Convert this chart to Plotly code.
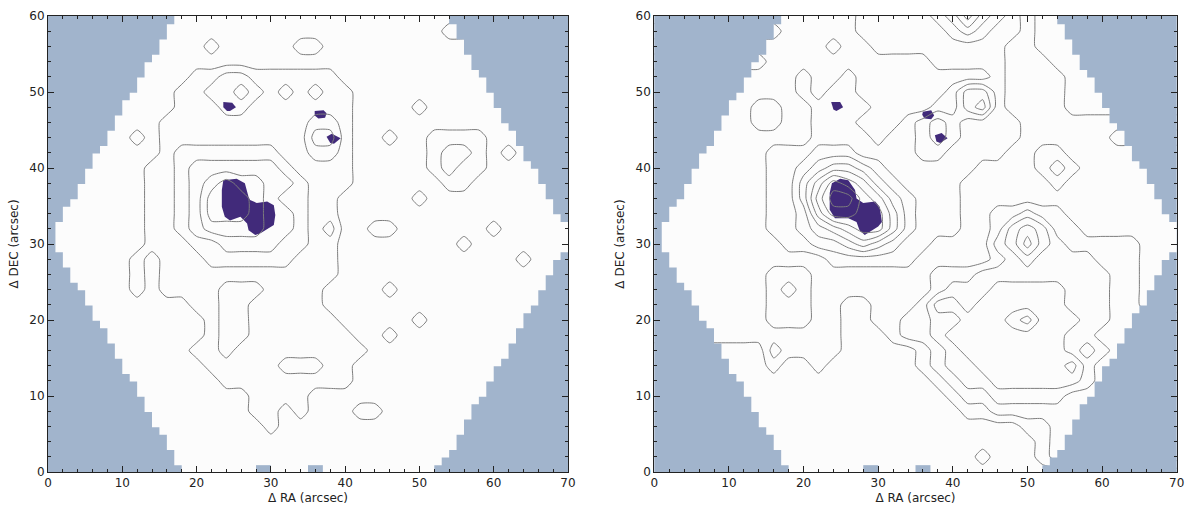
import plotly.graph_objects as go

# ---------------- data ----------------
x_nodes = list(range(0, 71, 2))   # contour grid nodes (arcsec)
y_nodes = list(range(0, 61, 2))

# contour level counts, rows from DEC=60 (top) to DEC=0
right_levels = [
    "........." + "1111122222346432100" + "........",
    "........" + "01111122222234322100" + "........",
    "........" + "111121122222222211000" + ".......",
    "......." + "0111111111112222211100" + ".......",
    "......." + "11121121111111112111100" + "......",
    "......" + "111121221" + "11111" + "24421" + "11100" + "......",
    "....." + "1122112222" + "1111" + "224521" + "111000" + ".....",
    "....." + "11221122211123432222" + "111111" + ".....",
    "...." + "1111111222212234322221111112" + "....",
    "...." + "11112223332222332222112211111" + "...",
    "..." + "111112234554322222211112321111" + "...",
    "..." + "1111122468764322221111112111111" + "..",
    ".." + "111111" + "22479976432221" + "111111111111" + "..",
    "." + "1111111" + "22368877532221" + "122322" + "1111111" + ".",
    "." + "1111111" + "22345677532221" + "124542" + "21111111",
    "." + "1111111" + "12233454322111" + "134643" + "22222111",
    "." + "11111111" + "111222222" + "1111" + "1" + "2343" + "333" + "222" + "11" + ".",
    ".." + "111111" + "222" + "1111111" + "1" + "222" + "333333333" + "22" + "11" + ".",
    ".." + "111111" + "232" + "1111111" + "1" + "2" + "333" + "44444" + "333" + "22" + "1" + "..",
    "..." + "11111" + "222" + "1100111" + "2" + "44" + "3" + "444444" + "333" + "22" + "1" + "..",
    "..." + "11111" + "222" + "11001" + "1" + "22" + "33" + "444" + "56" + "444" + "33" + "22" + "...",
    "...." + "1111" + "11111" + "000" + "1" + "22" + "3" + "44444444" + "33" + "22" + "....",
    "....." + "000" + "2" + "1111" + "00000" + "1" + "2" + "3" + "4444444" + "3" + "2" + "3" + "2" + "....",
    "....." + "000" + "1" + "00" + "1" + "000000" + "1" + "2" + "33" + "444444" + "5" + "3" + "2" + ".....",
    "......" + "0000000000000" + "1" + "2" + "33" + "444444" + "3" + "2" + ".....",
    "......" + "00000000000000" + "1" + "22" + "33333" + "22" + "......",
    "......." + "00000000000000" + "11" + "222222" + ".......",
    "......." + "000000000000000000" + "11" + "22" + ".......",
    "........" + "000000000000000000" + "1" + "2" + "........",
    "........." + "0000000000000" + "1" + "000" + "1" + "2" + "........",
    "........." + "000000000000000000" + ".........",
]

left_levels = [
    "........." + "0000000000000000000" + "........",
    "........" + "0000000000000000000" + "1" + "........",
    "........" + "000100000" + "11" + "0000000000" + ".......",
    "......." + "0000000000000000000000" + ".......",
    "......." + "000" + "11" + "22" + "111111" + "0" + "0" + "00000000" + "......",
    "......" + "000" + "11" + "22" + "3" + "2" + "1" + "2" + "1211" + "0" + "00000000" + "......",
    "....." + "0000" + "111" + "22" + "1111111" + "00" + "00100000" + ".....",
    "....." + "000" + "111111111" + "1" + "22" + "1" + "000" + "0000000" + ".....",
    "...." + "00" + "1" + "0" + "111111111" + "1" + "33" + "1" + "00" + "1" + "00" + "1111" + "00" + "....",
    "...." + "0000" + "1" + "2222222" + "1" + "1" + "22" + "1" + "0" + "0000" + "1" + "22" + "1" + "0" + "1" + "0" + "...",
    "..." + "0000" + "11" + "2" + "333333" + "2" + "1111" + "0" + "0000" + "1" + "2" + "11" + "000" + "...",
    "..." + "0000" + "11" + "2" + "3" + "4" + "5" + "44" + "33" + "2" + "111" + "000000" + "11" + "00000" + "..",
    ".." + "00000" + "11" + "2" + "3" + "555" + "4" + "3" + "22" + "11" + "0" + "0000" + "1" + "00000000" + "..",
    "." + "000000" + "11" + "2" + "3" + "555" + "4" + "33" + "2" + "11" + "0" + "00000000000000" + ".",
    "." + "000000" + "11" + "2" + "3" + "4444" + "33" + "2" + "12" + "00" + "11" + "000000" + "1" + "00000",
    "." + "000000" + "111" + "22" + "3333" + "22" + "11" + "0" + "0000000" + "1" + "00" + "0" + "0000",
    "." + "00000" + "1" + "0" + "111" + "222222" + "111" + "0" + "00000000000" + "1" + "00" + ".",
    ".." + "0000" + "1" + "0" + "111111111111" + "0" + "00000000000000" + ".",
    ".." + "0000" + "1" + "0" + "1111" + "222" + "1111" + "0" + "000" + "1" + "0000000000" + "..",
    "..." + "0000000" + "11" + "22" + "11111" + "0" + "00" + "0" + "00000000000" + "..",
    "..." + "00000000" + "1" + "22" + "111111" + "00000" + "1" + "0000000" + "...",
    "...." + "0000000" + "1" + "22" + "1111111" + "00" + "1" + "0" + "0000000" + "....",
    "....." + "00000" + "11" + "2" + "111111111" + "0000000000" + "....",
    "....." + "000000" + "11111" + "222" + "11" + "0" + "000000000" + ".....",
    "......" + "000000" + "111111111" + "0" + "000000000" + ".....",
    "......" + "00000000" + "1111" + "000000000000" + "......",
    "......." + "0000000" + "11" + "0" + "1" + "000" + "11" + "000000" + ".......",
    "......." + "00000000" + "1" + "0000000000000" + ".......",
    "........" + "00000000000000000000" + "........",
    "........." + "0000000000000000000" + "........",
    "........." + "000000000000000000" + ".........",
]

# field-of-view mask: first and last covered RA for each 1-arcsec DEC row (row 0 at bottom)
row_left = [18, 17, 17, 16, 16, 15, 14, 14, 13, 13, 12, 12, 11, 10, 10, 9, 9, 8, 8, 7,
            6, 6, 5, 5, 4, 3, 3, 2, 2, 1, 1, 1, 1, 2, 2, 3, 4, 4, 5, 5,
            6, 6, 7, 8, 8, 9, 9, 10, 10, 11, 12, 12, 13, 13, 14, 15, 15, 16, 16, 17]
row_right = [52, 53, 54, 55, 55, 56, 56, 57, 57, 58, 59, 59, 60, 60, 61, 62, 62, 63, 63, 64,
             64, 65, 66, 66, 67, 67, 68, 68, 69, 70, 70, 70, 70, 69, 68, 68, 67, 67, 66, 66,
             65, 64, 64, 63, 63, 62, 61, 61, 60, 60, 59, 59, 58, 57, 57, 56, 56, 55, 55, 54]
bottom_gaps = [(28, 30), (35, 37)]

# purple regions (RA, DEC outlines)
left_blobs = [
    ([23.6, 25.4, 26.5, 27.0, 27.2, 28.1, 29.5, 30.4, 30.6, 30.4, 28.6, 27.9, 27.0, 26.8, 25.9, 24.5, 23.8, 23.4, 23.4],
     [38.4, 38.6, 38.0, 36.2, 35.8, 35.4, 35.6, 35.1, 33.8, 32.5, 31.4, 31.2, 31.8, 32.7, 33.6, 33.1, 33.6, 34.9, 37.1]),
    ([23.6, 24.8, 25.3, 24.5, 24.1, 23.6], [48.7, 48.6, 48.0, 47.5, 47.5, 48.0]),
    ([35.9, 37.1, 37.5, 37.3, 36.4, 35.9], [47.5, 47.6, 47.2, 46.6, 46.5, 46.9]),
    ([37.5, 38.2, 39.4, 38.5, 38.0], [44.1, 44.5, 43.9, 43.2, 43.3]),
]
right_blobs = [
    ([23.8, 24.9, 26.0, 26.9, 27.1, 28.0, 29.6, 30.2, 30.5, 30.0, 28.2, 27.5, 27.1, 26.0, 24.2, 23.5, 23.5],
     [38.0, 38.6, 38.4, 37.1, 36.0, 35.4, 35.6, 34.9, 32.9, 32.3, 31.2, 31.8, 32.9, 33.4, 33.4, 34.5, 36.7]),
    ([23.7, 24.9, 25.3, 24.4, 24.0], [48.7, 48.7, 48.0, 47.5, 47.7]),
    ([36.0, 37.1, 37.5, 37.1, 36.2, 35.9], [47.4, 47.6, 46.9, 46.4, 46.5, 47.0]),
    ([37.6, 38.5, 39.3, 38.3, 37.8], [44.3, 44.6, 43.9, 43.3, 43.5]),
]

# ---------------- styling ----------------
MASK = "#a1b4cc"
INSIDE = "#fcfcfc"
PURPLE = "#412a7a"
LINE = "#7d7d7d"
FONT = "DejaVu Sans"


def grid_from(rows):
    out = []
    for s in rows:
        s = (s + "." * 36)[:36]
        idx = [i for i, c in enumerate(s) if c != "."]
        row = []
        for i, c in enumerate(s):
            if c == ".":
                c = s[min(idx, key=lambda k: abs(k - i))]
            row.append(float(int(c, 36)))
        out.append(row)
    return out[::-1]   # bottom row first


def mask_polys():
    n = len(row_left)
    lo = [k - 0.1 for k in range(n)]
    hi = [k + 0.9 for k in range(n)]
    lo[0] = -2
    hi[-1] = 62
    lx, ly = [-2], [-2]
    rx, ry = [72], [-2]
    for k in range(n):
        lx += [row_left[k], row_left[k]]
        ly += [lo[k], hi[k]]
        rx += [row_right[k], row_right[k]]
        ry += [lo[k], hi[k]]
    lx += [-2]
    ly += [62]
    rx += [72]
    ry += [62]
    polys = [(lx, ly), (rx, ry)]
    for a, b in bottom_gaps:
        polys.append(([a, b, b, a, a], [-2, -2, hi[0], hi[0], -2]))
    return polys


fig = go.Figure()
panels = [("x", "y", left_levels, left_blobs), ("x2", "y2", right_levels, right_blobs)]
shapes = []
for xa, ya, levels, blobs in panels:
    fig.add_trace(go.Contour(
        x=x_nodes, y=y_nodes, z=grid_from(levels), xaxis=xa, yaxis=ya,
        contours=dict(start=0.5, end=11.5, size=1, coloring="none", showlabels=False),
        line=dict(color=LINE, width=1, smoothing=0.6),
        showscale=False, hoverinfo="skip"))
    for px, py in mask_polys():
        fig.add_trace(go.Scatter(
            x=px, y=py, xaxis=xa, yaxis=ya, mode="lines", fill="toself",
            fillcolor=MASK, line=dict(width=0, color=MASK),
            hoverinfo="skip", showlegend=False))
    for bx, by in blobs:
        path = "M " + " L ".join(f"{u},{v}" for u, v in zip(bx, by)) + " Z"
        shapes.append(dict(type="path", path=path, xref=xa, yref=ya,
                           fillcolor=PURPLE, line=dict(width=0), layer="below"))

axis_common = dict(
    showline=True, linecolor="#222", linewidth=1, mirror="ticks",
    ticks="inside", ticklen=6, tickwidth=1, tickcolor="#222",
    minor=dict(dtick=2, ticks="inside", ticklen=3, tickwidth=1, tickcolor="#222"),
    showgrid=False, zeroline=False, automargin=False,
    tickfont=dict(family=FONT, size=12, color="#222"),
    title_font=dict(family=FONT, size=12, color="#222"),
)
ydom = [1 - 472 / 505, 1 - 16 / 505]
fig.update_layout(
    width=1185, height=505,
    margin=dict(l=0, r=0, t=0, b=0, autoexpand=False),
    paper_bgcolor="white", plot_bgcolor=INSIDE,
    showlegend=False,
    shapes=shapes,
    xaxis=dict(domain=[48 / 1185, 568 / 1185], range=[0, 70], dtick=10, tick0=0,
               title=dict(text="Δ RA (arcsec)", standoff=6), anchor="y", **axis_common),
    yaxis=dict(domain=ydom, range=[0, 60], dtick=10, tick0=0,
               title=dict(text="Δ DEC (arcsec)", standoff=8), anchor="x", **axis_common),
    xaxis2=dict(domain=[654.3 / 1185, 1176.7 / 1185], range=[0, 70], dtick=10, tick0=0,
                title=dict(text="Δ RA (arcsec)", standoff=6), anchor="y2", **axis_common),
    yaxis2=dict(domain=ydom, range=[0, 60], dtick=10, tick0=0,
                title=dict(text="Δ DEC (arcsec)", standoff=8), anchor="x2", **axis_common),
)
fig.write_html("out.html")
